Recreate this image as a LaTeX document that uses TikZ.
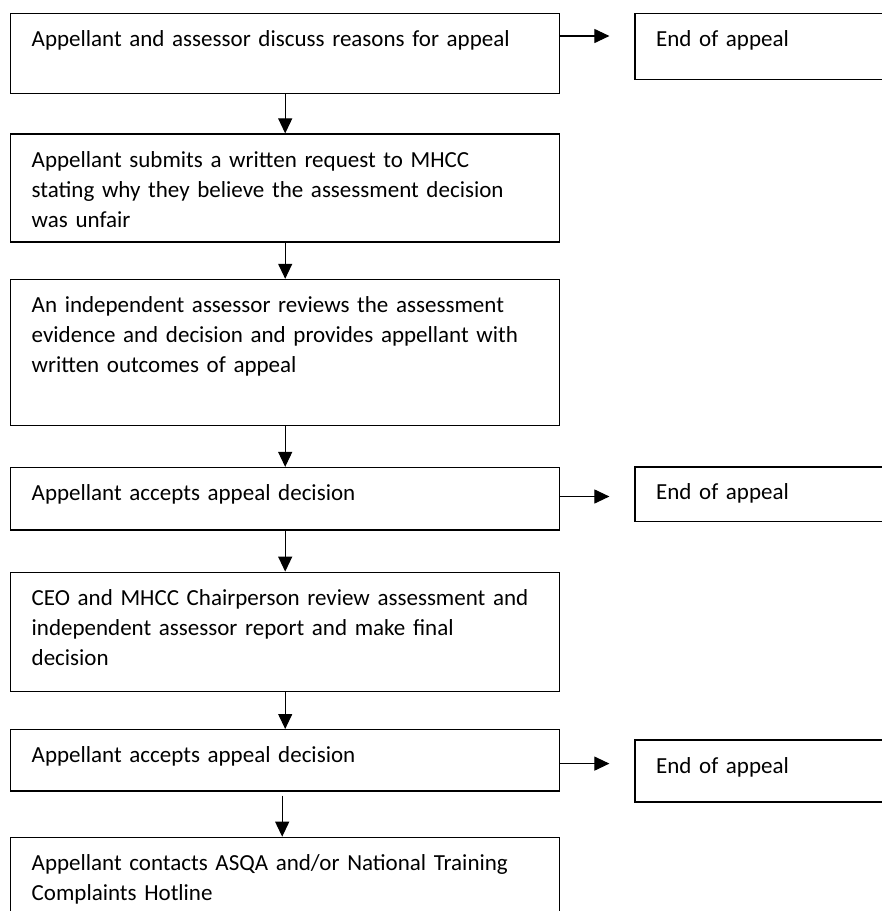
\documentclass[tikz,border=0pt]{standalone}
\usepackage{fontspec}
\setmainfont{Carlito}
\usepackage{tikz}
\usetikzlibrary{positioning, arrows.meta}
\newcommand{\boxfont}{\fontsize{23}{30}\selectfont}
\tikzstyle{process} = [rectangle, draw=black, line width=1.4pt, inner xsep=21pt, inner ysep=0pt, text width=507pt, align=left, text height=33pt, font=\boxfont]
\tikzstyle{endbox} = [process, text width=228pt]
\tikzstyle{arrow} = [line width=1.1pt, -{Triangle[length=15pt, width=14pt]}]

\begin{document}
\begin{tikzpicture}[x=1pt, y=-1pt]
        \useasboundingbox (0,0) rectangle (882,911);
        \node (discuss) [process, text depth=47pt, anchor=north west] at (10,12.7) {Appellant and assessor discuss reasons for appeal};
        \node (written-request) [process, text depth=75pt, below=39.3pt of discuss] {Appellant submits a written request to MHCC\\stating why they believe the assessment decision\\was unfair};
        \node (independent-review) [process, text depth=112.7pt, below=36pt of written-request] {An independent assessor reviews the assessment\\evidence and decision and provides appellant with\\written outcomes of appeal};
        \node (accept-one) [process, text depth=29.3pt, below=41pt of independent-review] {Appellant accepts appeal decision};
        \node (ceo-review) [process, text depth=86pt, below=41pt of accept-one] {CEO and MHCC Chairperson review assessment and\\independent assessor report and make final\\decision};
        \node (accept-two) [process, text depth=28.3pt, below=37pt of ceo-review] {Appellant accepts appeal decision};
        \node (contact-asqa) [process, text depth=80pt, below=45pt of accept-two] {Appellant contacts ASQA and/or National Training\\Complaints Hotline};

        \node (end-one) [endbox, text depth=33pt, right=74pt of discuss.north east, anchor=north west] {End of appeal};
        \node (end-two) [endbox, text depth=21.7pt, right=74pt of accept-one.north east, anchor=north west, yshift=0.7pt] {End of appeal};
        \node (end-three) [endbox, text depth=29pt, right=74pt of accept-two.north east, anchor=north west, yshift=-10.3pt] {End of appeal};

        \draw [arrow] (discuss) -- (written-request);
        \draw [arrow] (written-request) -- (independent-review);
        \draw [arrow] (independent-review) -- (accept-one);
        \draw [arrow] (accept-one) -- (ceo-review);
        \draw [arrow] (ceo-review) -- (accept-two);
        \draw [arrow] ([xshift=-3pt, yshift=-4pt]accept-two.south) -- ([xshift=-3pt]contact-asqa.north);

        \draw [arrow, shorten >=25pt] ([yshift=-23.3pt]discuss.north east) -- ([yshift=-23.3pt]discuss.north east -| end-one.west);
        \draw [arrow, shorten >=25pt] ([yshift=-29.6pt]accept-one.north east) -- ([yshift=-29.6pt]accept-one.north east -| end-two.west);
        \draw [arrow, shorten >=25pt] ([yshift=-34.6pt]accept-two.north east) -- ([yshift=-34.6pt]accept-two.north east -| end-three.west);
    \end{tikzpicture}
\end{document}
